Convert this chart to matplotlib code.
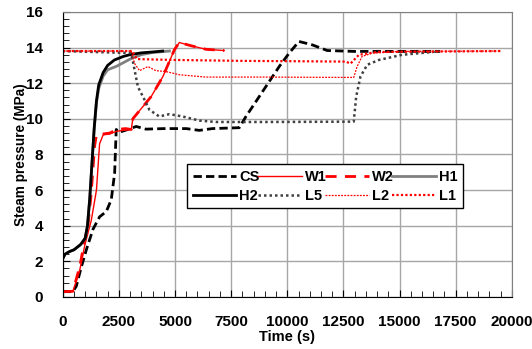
import numpy as np
import matplotlib.pyplot as plt
from matplotlib.ticker import MultipleLocator

plt.rcParams['font.family'] = ['Liberation Sans', 'DejaVu Sans']

# time (s) / steam pressure (MPa)
cs_t = [0, 450, 600, 830, 1050, 1345, 1640, 1940, 2160, 2310, 2380, 2530, 2900, 3270, 3700,
        4500, 5500, 6080, 6660, 7860, 8160, 8900, 9640, 10080, 10520, 11110, 11780, 13000, 15000, 16800]
cs_p = [0.3, 0.3, 0.6, 1.7, 2.65, 3.8, 4.5, 4.8, 5.46, 6.95, 9.4, 9.25, 9.4, 9.57, 9.42,
        9.45, 9.45, 9.35, 9.45, 9.5, 10.13, 11.53, 12.93, 13.68, 14.34, 14.15, 13.83, 13.78, 13.78, 13.78]

w1_t = [0, 450, 755, 980, 1270, 1500, 1640, 1800, 2100, 2400, 2700, 3050, 3120, 3940, 4460,
        4970, 5190, 5710, 6380, 7190]
w1_p = [0.3, 0.32, 1.5, 2.9, 4.3, 6.0, 8.6, 9.1, 9.15, 9.3, 9.35, 9.4, 10.0, 11.25, 12.37,
        13.87, 14.28, 14.1, 13.9, 13.83]

w2_t = [0, 450, 755, 980, 1120, 1250, 1345, 1420, 1500, 1800, 2100, 2400, 2800, 3050, 3120,
        3940, 4460, 4970, 5190, 5710, 6380, 7190]
w2_p = [0.3, 0.32, 1.7, 3.2, 4.0, 5.6, 7.2, 8.5, 9.1, 9.15, 9.2, 9.4, 9.45, 9.4, 10.0,
        11.25, 12.37, 13.87, 14.28, 14.1, 13.9, 13.83]

h1_t = [0, 100, 300, 500, 800, 1000, 1100, 1200, 1300, 1400, 1500, 1600, 1800, 2000, 2400,
        3000, 3500, 4000, 4750]
h1_p = [2.15, 2.4, 2.55, 2.65, 2.95, 3.3, 4.0, 5.5, 7.5, 9.4, 10.9, 11.7, 12.4, 12.75, 12.95,
        13.35, 13.6, 13.72, 13.8]

h2_t = [0, 100, 300, 500, 800, 1000, 1100, 1200, 1300, 1400, 1500, 1600, 1800, 2000, 2300,
        2700, 3000, 3500, 4000, 4450]
h2_p = [2.15, 2.4, 2.55, 2.65, 2.95, 3.3, 4.0, 5.5, 7.5, 9.5, 11.0, 11.9, 12.6, 13.0, 13.3,
        13.5, 13.6, 13.7, 13.75, 13.8]

l5_t = [0, 3050, 3345, 3640, 3860, 4300, 4750, 5340, 6080, 6820, 9000, 12960, 13070, 13260,
        13560, 14080, 15110, 16740]
l5_p = [13.8, 13.69, 11.8, 11.07, 10.5, 10.13, 10.26, 10.13, 9.9, 9.82, 9.82, 9.84, 11.25, 12.37,
        13.03, 13.3, 13.59, 13.78]

l2_t = [0, 3050, 3200, 3420, 3790, 4150, 4600, 5200, 6380, 9000, 12960, 13110, 13330, 13780,
        15000, 19500]
l2_p = [13.8, 13.8, 13.1, 12.7, 12.93, 12.7, 12.65, 12.47, 12.34, 12.34, 12.32, 12.93, 13.5, 13.68,
        13.78, 13.8]

l1_t = [0, 3100, 3300, 5000, 8000, 12600, 12820, 13190, 14000, 19500]
l1_p = [13.8, 13.8, 13.35, 13.3, 13.25, 13.21, 13.1, 13.59, 13.75, 13.8]

fig = plt.figure(figsize=(5.32, 3.49), dpi=100)
ax = fig.add_axes([0.118, 0.149, 0.844, 0.817])

cs, = ax.plot(cs_t, cs_p, color='black', lw=2, ls=(0, (3, 1.5)), label='CS')
w1, = ax.plot(w1_t, w1_p, color='red', lw=1, label='W1')
w2, = ax.plot(w2_t, w2_p, color='red', lw=2, ls=(0, (4, 3)), label='W2')
h1, = ax.plot(h1_t, h1_p, color='#808080', lw=2, label='H1')
h2, = ax.plot(h2_t, h2_p, color='black', lw=2, label='H2')
l5, = ax.plot(l5_t, l5_p, color='#404040', lw=1.8, ls=(0, (1, 1.2)), label='L5')
l2, = ax.plot(l2_t, l2_p, color='red', lw=0.9, ls=(0, (1.5, 1)), label='L2')
l1, = ax.plot(l1_t, l1_p, color='red', lw=1.6, ls=(0, (1, 1)), label='L1')

ax.set_xlim(0, 20000)
ax.set_ylim(0, 16)
ax.xaxis.set_major_locator(MultipleLocator(2500))
ax.xaxis.set_minor_locator(MultipleLocator(500))
ax.yaxis.set_major_locator(MultipleLocator(2))
ax.yaxis.set_minor_locator(MultipleLocator(0.4))
ax.tick_params(which='both', direction='in', top=False, right=False)
ax.tick_params(which='major', length=5, labelsize=11)
ax.tick_params(which='minor', length=4)
ax.tick_params(axis='x', pad=13)
ax.tick_params(axis='y', pad=14)
for lab in ax.get_xticklabels() + ax.get_yticklabels():
    lab.set_fontweight('bold')
ax.grid(True, which='major', color='#a6a6a6', lw=1)
ax.set_axisbelow(True)
for s in ax.spines.values():
    s.set_color('#808080')
ax.spines['bottom'].set_color('black')
ax.spines['left'].set_color('black')

ax.set_xlabel('Time (s)', fontsize=10.5, fontweight='bold', labelpad=1)
ax.set_ylabel('Steam pressure (MPa)', fontsize=9.8, fontweight='bold', labelpad=-1)

handles = [cs, h2, w1, l5, w2, l2, h1, l1]
leg = ax.legend(handles=handles, ncol=4, loc='lower left', bbox_to_anchor=(0.26, 0.285, 0.648, 0.17),
                mode='expand', fancybox=False, framealpha=1, edgecolor='black',
                prop={'weight': 'bold', 'size': 10.5}, handlelength=3.0, handletextpad=0.2,
                columnspacing=0.8, borderpad=0.4, labelspacing=0.3)
leg.get_frame().set_linewidth(1)

fig.savefig('out.png', dpi=100)
